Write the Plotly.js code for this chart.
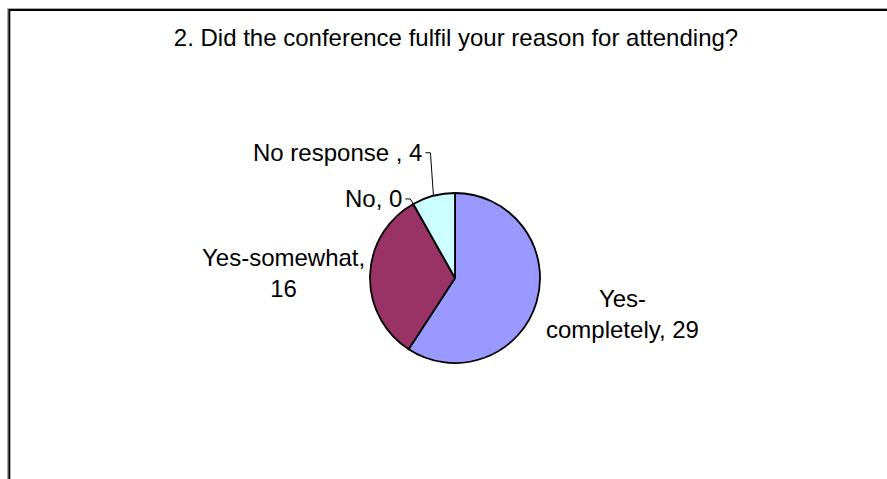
<!DOCTYPE html>
<html>
<head>
<meta charset="utf-8">
<script src="https://cdn.plot.ly/plotly-3.0.1.min.js"></script>
<style>
  html, body { margin: 0; padding: 0; background: #ffffff; }
  #chart { width: 887px; height: 479px; }
</style>
</head>
<body>
<div id="chart"></div>
<script>
// ---- data ----
const categories = ['Yes-completely', 'Yes-somewhat', 'No', 'No response'];
const values = [29, 16, 0, 4];
const labelTexts = ['Yes-<br>completely, 29', 'Yes-somewhat,<br>16', 'No, 0', 'No response , 4'];
const titleText = '2. Did the conference fulfil your reason for attending?';

// ---- style ----
const colors = ['#9999FF', '#993366', '#FFFFCC', '#CCFFFF'];
const W = 887, H = 479;
const cx = 455, cy = 278, R = 85;           // pie centre / radius in px
// label offset from slice edge midpoint (px); leader = label sits to the left with an elbow line
const labelOffsets = [
  {dx: 86, dy: 12, leader: false},
  {dx: -87, dy: -2, leader: false},
  {dx: -9, dy: -5, leader: true},
  {dx: -9, dy: -43, leader: true}
];
const fontFamily = '"Liberation Sans", Arial, sans-serif';
const fontSize = 24;

const px = x => x / W;
const py = y => 1 - y / H;

// ---- labels computed from the data (slice mid-angles) ----
const total = values.reduce((a, b) => a + b, 0);
let cum = 0;
const annotations = [];
const leaderShapes = [];
values.forEach((v, i) => {
  const mid = (cum + v / 2) / total * 2 * Math.PI; // clockwise from 12 o'clock
  cum += v;
  const ex = cx + R * Math.sin(mid);
  const ey = cy - R * Math.cos(mid);
  const o = labelOffsets[i];
  const tx = ex + o.dx, ty = ey + o.dy;
  annotations.push({
    xref: 'paper', yref: 'paper',
    x: px(tx), y: py(ty),
    xanchor: o.leader ? 'right' : 'center', yanchor: 'middle', align: 'center',
    text: labelTexts[i], showarrow: false,
    font: {family: fontFamily, size: fontSize, color: '#000000'}
  });
  if (o.leader) {
    const lx0 = tx + 1, lx1 = tx + 6;
    leaderShapes.push({
      type: 'path', xref: 'paper', yref: 'paper',
      path: `M ${px(lx0)} ${py(ty)} L ${px(lx1)} ${py(ty)} L ${px(ex)} ${py(ey)}`,
      line: {color: '#000000', width: 1}
    });
  }
});

const trace = {
  type: 'pie',
  labels: categories,
  values: values,
  sort: false,
  direction: 'clockwise',
  rotation: 0,
  textinfo: 'none',
  textposition: 'none',
  hoverinfo: 'label+value',
  marker: {colors: colors, line: {color: '#000000', width: 1.8}},
  domain: {x: [px(cx - R), px(cx + R)], y: [py(cy + R), py(cy - R)]},
  showlegend: false
};

const layout = {
  width: W, height: H,
  margin: {l: 0, r: 0, t: 0, b: 0},
  paper_bgcolor: '#ffffff',
  plot_bgcolor: '#ffffff',
  showlegend: false,
  title: {
    text: titleText,
    x: px(456), xanchor: 'center',
    y: py(38), yanchor: 'middle',
    font: {family: fontFamily, size: fontSize, color: '#000000'}
  },
  annotations: annotations,
  shapes: [
    {type: 'rect', xref: 'paper', yref: 'paper',
     x0: px(7.5), x1: 1.1, y0: -0.1, y1: py(8.5),
     line: {color: '#aaaaaa', width: 1}, fillcolor: 'rgba(0,0,0,0)'},
    {type: 'rect', xref: 'paper', yref: 'paper',
     x0: px(9.3), x1: 1.1, y0: -0.1, y1: py(10),
     line: {color: '#000000', width: 2}, fillcolor: 'rgba(0,0,0,0)'}
  ].concat(leaderShapes)
};

Plotly.newPlot('chart', [trace], layout, {staticPlot: true, displayModeBar: false});
</script>
</body>
</html>
